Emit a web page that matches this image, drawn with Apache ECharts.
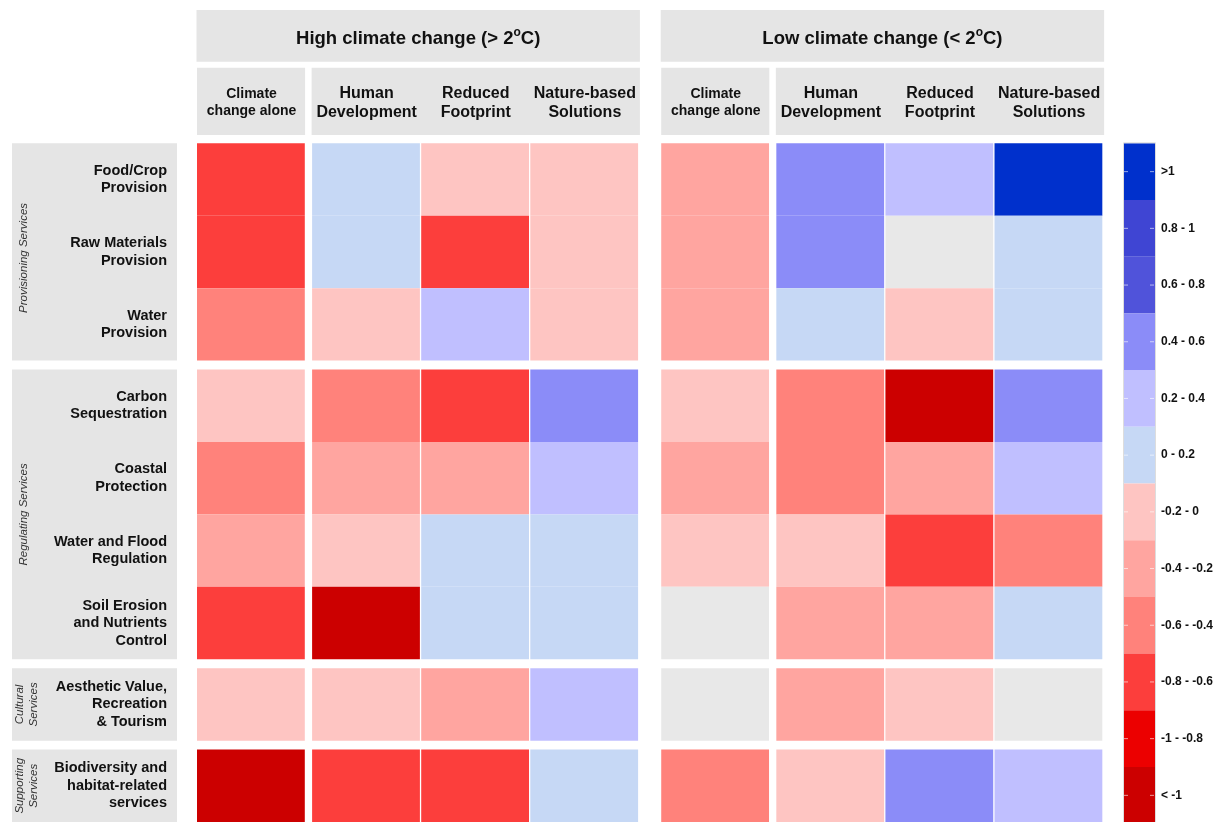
<!DOCTYPE html>
<html>
<head>
<meta charset="utf-8">
<script src="https://cdn.jsdelivr.net/npm/echarts@6/dist/echarts.min.js"></script>
<style>
  html, body { margin: 0; padding: 0; background: #fff; }
  #chart { width: 1222px; height: 822px; }
</style>
</head>
<body>
<div id="chart"></div>
<script>
// ---- categories ----
const services = [
  'Food/Crop\nProvision',
  'Raw Materials\nProvision',
  'Water\nProvision',
  'Carbon\nSequestration',
  'Coastal\nProtection',
  'Water and Flood\nRegulation',
  'Soil Erosion\nand Nutrients\nControl',
  'Aesthetic Value,\nRecreation\n& Tourism',
  'Biodiversity and\nhabitat-related\nservices'
];
const serviceGroups = ['Provisioning Services', 'Regulating Services', 'Cultural\nServices', 'Supporting\nServices'];
const groupSizes = [3, 4, 1, 1];
const climateTitles = ['High climate change (> 2{sup|o}C)', 'Low climate change (< 2{sup|o}C)'];
const scenarios = ['Climate\nchange alone', 'Human\nDevelopment', 'Reduced\nFootprint', 'Nature-based\nSolutions'];

// ---- values (one per service, top to bottom; null = no data) ----
const highAlone   = [-0.7, -0.7, -0.5, -0.1, -0.5, -0.3, -0.7, -0.1, -1.2];
const highHuman   = [ 0.1,  0.1, -0.1, -0.5, -0.3, -0.1, -1.2, -0.1, -0.7];
const highReduced = [-0.1, -0.7,  0.3, -0.7, -0.3,  0.1,  0.1, -0.3, -0.7];
const highNature  = [-0.1, -0.1, -0.1,  0.5,  0.3,  0.1,  0.1,  0.3,  0.1];
const lowAlone    = [-0.3, -0.3, -0.3, -0.1, -0.3, -0.1, null, null, -0.5];
const lowHuman    = [ 0.5,  0.5,  0.1, -0.5, -0.5, -0.1, -0.3, -0.3, -0.1];
const lowReduced  = [ 0.3, null, -0.1, -1.2, -0.3, -0.7, -0.3, -0.1,  0.5];
const lowNature   = [ 1.2,  0.1,  0.1,  0.5,  0.3, -0.5,  0.1, null,  0.3];

// ---- colour scale ----
const legendBreaks = [-1, -0.8, -0.6, -0.4, -0.2, 0, 0.2, 0.4, 0.6, 0.8, 1];
const legendLabels = ['< -1', '-1 - -0.8', '-0.8 - -0.6', '-0.6 - -0.4', '-0.4 - -0.2', '-0.2 - 0',
                      '0 - 0.2', '0.2 - 0.4', '0.4 - 0.6', '0.6 - 0.8', '0.8 - 1', '>1'];
const legendColors = ['#CC0000', '#EC0000', '#FC3E3C', '#FF827B', '#FFA5A0', '#FEC5C2',
                      '#C6D8F5', '#C0BFFF', '#8B8CF8', '#5053DA', '#3F45D3', '#0030CC'];
const missingColor = '#E8E8E8';

// ---- layout ----
const columnValues = [highAlone, highHuman, highReduced, highNature, lowAlone, lowHuman, lowReduced, lowNature];
const gapAfterAlone = 0.055;     // in cell widths
const gapBetweenClimates = 0.2;
const gapBetweenGroups = 0.1235; // in cell heights

const colStart = [];
{
  let x = 0;
  for (let c = 0; c < 8; c++) {
    if (c === 4) x += gapBetweenClimates;
    colStart.push(x);
    x += 1;
    if (c % 4 === 0) x += gapAfterAlone;
  }
}
const xMax = colStart[7] + 1;

const rowStart = [];
const groupRange = [];
{
  let y = 0;
  groupSizes.forEach((n, g) => {
    if (g > 0) y += gapBetweenGroups;
    const s = y;
    for (let i = 0; i < n; i++) { rowStart.push(y); y += 1; }
    groupRange.push([s, y]);
  });
}
const yMax = rowStart[rowStart.length - 1] + 1;

const cells = [];
columnValues.forEach((vals, c) => {
  vals.forEach((v, r) => {
    cells.push([colStart[c], rowStart[r], v === null ? '-' : v]);
  });
});

const pieces = legendColors.map((col, i) => {
  const p = { color: col, label: legendLabels[i] };
  if (i === 0) p.lt = legendBreaks[0];
  else if (i === legendColors.length - 1) p.gte = legendBreaks[legendBreaks.length - 1];
  else { p.gte = legendBreaks[i - 1]; p.lt = legendBreaks[i]; }
  return p;
}).reverse();

const chart = echarts.init(document.getElementById('chart'), null, { renderer: 'canvas' });

const gridTop = 143.3;
const cellH = 72.85;
const gridLeft = 197;
const cellW = 109.1;
const barTop = 143.3;
const barItemH = 56.7;

chart.setOption({
  backgroundColor: '#ffffff',
  animation: false,
  grid: {
    left: gridLeft,
    top: gridTop,
    width: xMax * cellW,
    height: yMax * cellH,
    containLabel: false
  },
  xAxis: { type: 'value', min: 0, max: xMax, show: false },
  yAxis: { type: 'value', min: 0, max: yMax, inverse: true, show: false },
  visualMap: {
    type: 'piecewise',
    seriesIndex: 0,
    dimension: 2,
    orient: 'vertical',
    align: 'left',
    left: 1124,
    top: barTop,
    padding: 0,
    itemWidth: 31,
    itemHeight: barItemH,
    itemGap: 0,
    itemSymbol: 'rect',
    textGap: 6,
    selectedMode: false,
    hoverLink: false,
    pieces: pieces,
    textStyle: { color: '#111', fontSize: 12, fontWeight: 'bold', fontFamily: 'Liberation Sans, Arial, sans-serif' }
  },
  series: [{
    type: 'custom',
    data: cells,
    encode: { x: 0, y: 1 },
    renderItem: function (params, api) {
      const x0 = api.value(0), y0 = api.value(1), v = api.value(2);
      const p0 = api.coord([x0, y0]);
      const p1 = api.coord([x0 + 1, y0 + 1]);
      const fill = isNaN(v) ? missingColor : api.visual('color');
      return {
        type: 'rect',
        shape: { x: p0[0], y: p0[1], width: p1[0] - p0[0] - 1.3, height: p1[1] - p0[1] },
        style: { fill: fill }
      };
    }
  }]
});

// ---- header strips, row labels and legend ticks ----
const font = 'Liberation Sans, Arial, sans-serif';
const px = (x, y) => chart.convertToPixel({ gridIndex: 0 }, [x, y]);
const headerFill = '#E5E5E5';
const graphics = [];

// climate titles and scenario headers
[0, 4].forEach((c0, k) => {
  const l = px(colStart[c0], 0)[0] - 0.5;
  const r = px(colStart[c0 + 3] + 1, 0)[0] + 0.5;
  graphics.push({ type: 'rect', shape: { x: l, y: 10, width: r - l, height: 51.7 }, style: { fill: headerFill } });
  graphics.push({
    type: 'text', x: (l + r) / 2, y: 38.5,
    style: {
      text: climateTitles[k], align: 'center', verticalAlign: 'middle',
      font: 'bold 18.5px ' + font, fill: '#111',
      rich: { sup: { fontSize: 12, fontWeight: 'bold', fontFamily: font, fill: '#111', padding: [0, 0, 12, 0] } }
    }
  });
  const lA = px(colStart[c0], 0)[0];
  const rA = px(colStart[c0] + 1, 0)[0] - 1;
  graphics.push({ type: 'rect', shape: { x: lA, y: 67.7, width: rA - lA, height: 67.3 }, style: { fill: headerFill } });
  const lB = px(colStart[c0 + 1], 0)[0] - 0.5;
  graphics.push({ type: 'rect', shape: { x: lB, y: 67.7, width: r - lB, height: 67.3 }, style: { fill: headerFill } });
  scenarios.forEach((name, j) => {
    const cx = px(colStart[c0 + j] + 0.5, 0)[0];
    graphics.push({
      type: 'text', x: cx, y: 103,
      style: {
        text: name, align: 'center', verticalAlign: 'middle',
        font: j === 0 ? 'bold 14px ' + font : 'bold 16px ' + font,
        lineHeight: j === 0 ? 17 : 19, fill: '#111'
      }
    });
  });
});

// row label panels
groupRange.forEach((rg, g) => {
  const t = px(0, rg[0])[1];
  const b = px(0, rg[1])[1];
  graphics.push({ type: 'rect', shape: { x: 12, y: t, width: 165, height: b - t }, style: { fill: headerFill } });
  const twoLine = serviceGroups[g].indexOf('\n') >= 0;
  graphics.push({
    type: 'text', x: twoLine ? 27 : 24, y: (t + b) / 2 + (g === 0 ? 6 : 0), rotation: Math.PI / 2,
    style: {
      text: serviceGroups[g], align: 'center', verticalAlign: 'middle',
      font: 'italic 11.5px ' + font, lineHeight: 14, fill: '#333'
    }
  });
});
services.forEach((name, r) => {
  const cy = px(0, rowStart[r] + 0.5)[1];
  graphics.push({
    type: 'text', x: 167, y: cy,
    style: {
      text: name, align: 'right', verticalAlign: 'middle',
      font: 'bold 14.5px ' + font, lineHeight: 17.5, fill: '#111'
    }
  });
});

// colour bar outline and tick marks
graphics.push({
  type: 'rect', shape: { x: 1123.5, y: barTop - 0.5, width: 32, height: barItemH * 12 + 1 },
  style: { fill: null, stroke: '#DDDDDD', lineWidth: 1 }, z: 10
});
legendLabels.forEach((_, i) => {
  const cy = barTop + barItemH * i + barItemH / 2;
  graphics.push({ type: 'line', shape: { x1: 1124, y1: cy, x2: 1128, y2: cy }, style: { stroke: 'rgba(255,255,255,0.6)', lineWidth: 1 }, z: 10 });
  graphics.push({ type: 'line', shape: { x1: 1150, y1: cy, x2: 1154, y2: cy }, style: { stroke: 'rgba(255,255,255,0.6)', lineWidth: 1 }, z: 10 });
});

chart.setOption({ graphic: graphics });
</script>
</body>
</html>
